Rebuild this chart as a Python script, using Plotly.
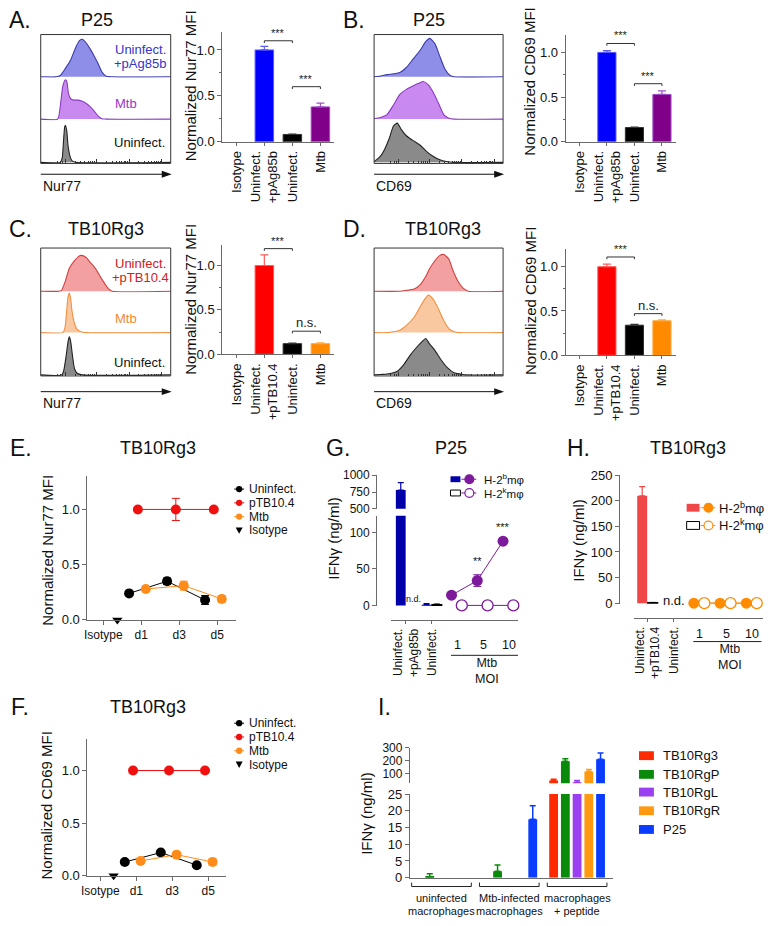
import numpy as np
import plotly.graph_objects as go

# ====================== DATA ======================
# Flow histograms (x = fraction of log axis, y = fraction of row height)
A_pAg85b_x = [0.00, 0.12, 0.15, 0.19, 0.23, 0.27, 0.30, 0.32, 0.35, 0.38, 0.41, 0.44, 0.47, 0.50, 0.55, 1.00]
A_pAg85b_y = [0.00, 0.00, 0.03, 0.20, 0.40, 0.70, 0.86, 0.89, 0.80, 0.66, 0.50, 0.32, 0.12, 0.02, 0.00, 0.00]
A_mtb_x = [0.00, 0.13, 0.15, 0.17, 0.19, 0.20, 0.215, 0.235, 0.26, 0.29, 0.32, 0.35, 0.38, 0.41, 0.44, 0.47, 0.50, 1.00]
A_mtb_y = [0.00, 0.00, 0.30, 0.80, 0.95, 0.92, 0.60, 0.48, 0.46, 0.46, 0.43, 0.38, 0.30, 0.20, 0.08, 0.01, 0.00, 0.00]
A_uninf_x = [0.00, 0.15, 0.165, 0.175, 0.185, 0.19, 0.20, 0.21, 0.225, 0.24, 0.27, 1.00]
A_uninf_y = [0.00, 0.00, 0.10, 0.50, 0.85, 0.88, 0.75, 0.40, 0.15, 0.04, 0.00, 0.00]

B_pAg85b_x = [0.00, 0.05, 0.10, 0.15, 0.20, 0.25, 0.30, 0.36, 0.40, 0.43, 0.47, 0.51, 0.55, 0.59, 0.62, 1.00]
B_pAg85b_y = [0.00, 0.02, 0.05, 0.07, 0.10, 0.22, 0.41, 0.64, 0.83, 0.91, 0.79, 0.48, 0.18, 0.03, 0.00, 0.00]
B_mtb_x = [0.00, 0.05, 0.10, 0.15, 0.20, 0.25, 0.30, 0.34, 0.38, 0.42, 0.46, 0.50, 0.54, 0.58, 0.62, 1.00]
B_mtb_y = [0.01, 0.04, 0.11, 0.34, 0.60, 0.72, 0.80, 0.86, 0.91, 0.83, 0.64, 0.38, 0.11, 0.02, 0.00, 0.00]
B_uninf_x = [0.00, 0.05, 0.08, 0.12, 0.15, 0.18, 0.21, 0.25, 0.30, 0.36, 0.41, 0.46, 0.51, 0.56, 0.62, 1.00]
B_uninf_y = [0.02, 0.15, 0.30, 0.59, 0.86, 0.93, 0.78, 0.63, 0.52, 0.40, 0.25, 0.14, 0.06, 0.02, 0.00, 0.00]

C_pTB_x = [0.00, 0.14, 0.16, 0.19, 0.22, 0.26, 0.29, 0.31, 0.35, 0.38, 0.42, 0.47, 0.52, 0.55, 1.00]
C_pTB_y = [0.00, 0.00, 0.02, 0.24, 0.53, 0.71, 0.80, 0.83, 0.78, 0.67, 0.53, 0.28, 0.06, 0.00, 0.00]
C_mtb_x = [0.00, 0.17, 0.185, 0.20, 0.21, 0.22, 0.23, 0.24, 0.26, 0.28, 0.31, 0.35, 1.00]
C_mtb_y = [0.00, 0.00, 0.10, 0.55, 0.88, 0.98, 0.85, 0.55, 0.22, 0.08, 0.02, 0.00, 0.00]
C_uninf_x = [0.00, 0.16, 0.175, 0.195, 0.21, 0.22, 0.23, 0.245, 0.26, 0.28, 0.32, 1.00]
C_uninf_y = [0.00, 0.00, 0.08, 0.45, 0.80, 0.92, 0.82, 0.45, 0.15, 0.04, 0.00, 0.00]

D_pTB_x = [0.00, 0.20, 0.25, 0.31, 0.36, 0.40, 0.43, 0.47, 0.51, 0.54, 0.58, 0.61, 0.65, 0.69, 0.73, 1.00]
D_pTB_y = [0.00, 0.00, 0.02, 0.05, 0.16, 0.34, 0.52, 0.70, 0.83, 0.85, 0.74, 0.49, 0.23, 0.07, 0.00, 0.00]
D_mtb_x = [0.00, 0.10, 0.15, 0.20, 0.25, 0.31, 0.36, 0.40, 0.42, 0.46, 0.50, 0.54, 0.58, 0.62, 0.66, 1.00]
D_mtb_y = [0.00, 0.00, 0.02, 0.06, 0.18, 0.38, 0.66, 0.86, 0.93, 0.82, 0.58, 0.30, 0.10, 0.02, 0.00, 0.00]
D_uninf_x = [0.00, 0.05, 0.10, 0.18, 0.23, 0.28, 0.33, 0.37, 0.40, 0.43, 0.47, 0.52, 0.57, 0.62, 0.67, 0.71, 1.00]
D_uninf_y = [0.00, 0.01, 0.02, 0.09, 0.25, 0.48, 0.67, 0.80, 0.88, 0.75, 0.60, 0.36, 0.17, 0.05, 0.02, 0.00, 0.00]

flow_decades = [0.19, 0.43, 0.68, 0.93]

# Normalized MFI bar charts
bar_cats_ag85b = ["Isotype", "Uninfect.<br>+pAg85b", "Uninfect.", "Mtb"]
bar_cats_tb10 = ["Isotype", "Uninfect.<br>+pTB10.4", "Uninfect.", "Mtb"]
A_vals = [None, 1.00, 0.08, 0.38]
A_errs = [None, 0.04, 0.005, 0.04]
B_vals = [None, 1.00, 0.16, 0.53]
B_errs = [None, 0.02, 0.005, 0.04]
C_vals = [None, 1.00, 0.12, 0.12]
C_errs = [None, 0.12, 0.005, 0.01]
D_vals = [None, 1.00, 0.34, 0.39]
D_errs = [None, 0.03, 0.01, 0.01]
sig_pairs = [(1, 2), (2, 3)]
A_sig, A_sig_y = ["***", "***"], [1.10, 0.60]
B_sig, B_sig_y = ["***", "***"], [1.10, 0.65]
C_sig, C_sig_y = ["***", "n.s."], [1.19, 0.26]
D_sig, D_sig_y = ["***", "n.s."], [1.11, 0.47]

# Time course (E, F)
time_cats = ["Isotype", "d1", "d3", "d5"]
time_legend = ["Uninfect.", "pTB10.4", "Mtb", "Isotype"]
E_uninf, E_uninf_err = [0.24, 0.35, 0.18], [0.01, 0.03, 0.04]
E_ptb, E_ptb_err = [1.00, 1.00, 1.00], [0.0, 0.10, 0.0]
E_mtb, E_mtb_err = [0.28, 0.31, 0.19], [0.01, 0.04, 0.03]
E_iso = [0.0]
F_uninf, F_uninf_err = [0.13, 0.22, 0.10], [0.01, 0.01, 0.01]
F_ptb, F_ptb_err = [1.00, 1.00, 1.00], [0.0, 0.0, 0.0]
F_mtb, F_mtb_err = [0.14, 0.20, 0.13], [0.01, 0.02, 0.03]
F_iso = [0.0]

# IFN-gamma (G, H)
G_bar_cats = ["Uninfect.<br>+pAg85b", "Uninfect."]
H_bar_cats = ["Uninfect.<br>+pTB10.4", "Uninfect."]
moi_labels = ["1", "5", "10"]
G_b_bar, G_b_bar_err = [780, 1.0], [110, 1.5]
G_k_bar, G_k_bar_err = [None, 1.0], [None, 1.0]
G_b_moi, G_b_moi_err = [14, 34, 88], [1.5, 8, 2]
G_k_moi = [0, 0, 0]
G_sig, G_sig_y = ["", "**", "***"], [None, 61, 108]
H_b_bar, H_b_bar_err = [210, None], [18, None]
H_k_bar, H_k_bar_err = [1.0, None], [0.5, None]
H_b_moi = [0, 0, 0]
H_k_moi = [0, 0, 0]

# IFN-gamma (I)
I_groups_l1 = ["uninfected", "Mtb-infected", "macrophages"]
I_groups_l2 = ["macrophages", "macrophages", "+ peptide"]
I_series = ["TB10Rg3", "TB10RgP", "TB10RgL", "TB10RgR", "P25"]
I_TB10Rg3, I_TB10Rg3_err = [None, None, 45], [None, None, 10]
I_TB10RgP, I_TB10RgP_err = [0.3, 1.9, 195], [0.9, 1.9, 20]
I_TB10RgL, I_TB10RgL_err = [None, None, 30], [None, None, 15]
I_TB10RgR, I_TB10RgR_err = [None, None, 115], [None, None, 15]
I_P25, I_P25_err = [None, 17.5, 210], [None, 4, 50]

# ====================== FIGURE ======================
W, H = 768, 926
FONT = "Liberation Sans, Arial, Helvetica, sans-serif"
AX = "#6a6a6a"


def px(x):
    return x / W


def py(y):
    return 1 - y / H


fig = go.Figure()
layout = dict(width=W, height=H, margin=dict(l=0, r=0, t=0, b=0), paper_bgcolor="white",
              plot_bgcolor="rgba(0,0,0,0)", showlegend=False, barmode="overlay",
              font=dict(family=FONT, size=13, color="#111"))
shapes, annotations = [], []
ncount = [0]


def new_axes(xdom, ydom, xopts=None, yopts=None):
    ncount[0] += 1
    n = ncount[0]
    s = "" if n == 1 else str(n)
    xa = dict(domain=[px(xdom[0]), px(xdom[1])], anchor="y" + s, showgrid=False, zeroline=False,
              showline=False, showticklabels=False, ticks="")
    ya = dict(domain=[py(ydom[1]), py(ydom[0])], anchor="x" + s, showgrid=False, zeroline=False,
              showline=False, showticklabels=False, ticks="")
    xa.update(xopts or {})
    ya.update(yopts or {})
    layout["xaxis" + s] = xa
    layout["yaxis" + s] = ya
    return "x" + s, "y" + s


def txt(x, y, s, size=13, color="#111", xanchor="center", yanchor="middle", angle=0):
    annotations.append(dict(x=px(x), y=py(y), xref="paper", yref="paper", text=s, showarrow=False,
                            font=dict(size=size, color=color, family=FONT), xanchor=xanchor,
                            yanchor=yanchor, textangle=angle))


def panel_title(lx, ly, letter, tx, title):
    txt(lx, ly, letter, size=23, xanchor="left")
    txt(tx, ly, title, size=18)


def in_range(vals, errs, lo, hi):
    """keep only bars whose top lies inside an axis segment (for broken axes)"""
    xs, ys, es = [], [], []
    for i, (v, e) in enumerate(zip(vals, errs)):
        if v is None or v <= lo:
            continue
        xs.append(i)
        ys.append(v)
        es.append(e if (e is not None and v + e <= hi * 1.5) else 0)
    return xs, ys, es


# ---------- flow histograms ----------
minor_flow = []
for d in flow_decades[:-1]:
    for k in range(2, 10):
        minor_flow.append(d + 0.25 * np.log10(k))
minor_flow += [0.13, 0.155, 0.17]


def hist_panel(x0, x1, rows, curves, marker, arrow_y):
    for i, (xs, ys, lc, fc) in enumerate(curves):
        xo = dict(range=[0, 1])
        if i == len(curves) - 1:
            xo.update(ticks="inside", tickvals=flow_decades, ticklen=4, tickcolor="#333",
                      minor=dict(tickvals=minor_flow, ticks="inside", ticklen=2, tickcolor="#333"))
        xa, ya = new_axes((x0, x1), (rows[i], rows[i + 1]), xo, dict(range=[-0.025, 1.0]))
        fig.add_trace(go.Scatter(x=xs, y=ys, xaxis=xa, yaxis=ya, mode="lines",
                                 line=dict(color=lc, width=1.1, shape="spline", smoothing=0.6),
                                 fill="tozeroy", fillcolor=fc, hoverinfo="skip"))
    shapes.append(dict(type="rect", xref="paper", yref="paper", x0=px(x0), x1=px(x1),
                       y0=py(rows[-1]), y1=py(rows[0]), line=dict(color="#333", width=1)))
    shapes.append(dict(type="line", xref="paper", yref="paper", x0=px(x0), x1=px(x1 - 5),
                       y0=py(arrow_y), y1=py(arrow_y), line=dict(color="#111", width=1)))
    shapes.append(dict(type="path", xref="paper", yref="paper",
                       path=f"M {px(x1 - 9)},{py(arrow_y - 3.5)} L {px(x1 + 1)},{py(arrow_y)} L {px(x1 - 9)},{py(arrow_y + 3.5)} Z",
                       fillcolor="#111", line=dict(width=0)))
    txt(x0, arrow_y + 12, marker, size=14, xanchor="left")


BLUE_L, BLUE_F = "#3a3aa8", "#8e8ee8"
PUR_L, PUR_F = "#8a3ac0", "#c98af0"
GRY_L, GRY_F = "#222222", "#8a8a8a"
RED_L, RED_F = "#d04040", "#f2a0a0"
ORA_L, ORA_F = "#f09040", "#f9c8a0"

rowsAB = [28, 72, 115, 159]
rowsCD = [245, 290, 332, 375]
hist_panel(35, 166, rowsAB, [(A_pAg85b_x, A_pAg85b_y, BLUE_L, BLUE_F), (A_mtb_x, A_mtb_y, PUR_L, PUR_F),
                             (A_uninf_x, A_uninf_y, GRY_L, GRY_F)], "Nur77", 170)
hist_panel(371, 501, rowsAB, [(B_pAg85b_x, B_pAg85b_y, BLUE_L, BLUE_F), (B_mtb_x, B_mtb_y, PUR_L, PUR_F),
                              (B_uninf_x, B_uninf_y, GRY_L, GRY_F)], "CD69", 170)
hist_panel(35, 166, rowsCD, [(C_pTB_x, C_pTB_y, RED_L, RED_F), (C_mtb_x, C_mtb_y, ORA_L, ORA_F),
                             (C_uninf_x, C_uninf_y, GRY_L, GRY_F)], "Nur77", 391)
hist_panel(371, 501, rowsCD, [(D_pTB_x, D_pTB_y, RED_L, RED_F), (D_mtb_x, D_mtb_y, ORA_L, ORA_F),
                              (D_uninf_x, D_uninf_y, GRY_L, GRY_F)], "CD69", 391)

txt(163, 43, "Uninfect.", size=13, color="#3535c8", xanchor="right")
txt(163, 57, "+pAg85b", size=13, color="#3535c8", xanchor="right")
txt(121, 98, "Mtb", size=13, color="#9a35cc")
txt(162, 138, "Uninfect.", size=13, xanchor="right")
txt(163, 261, "Uninfect.", size=13, color="#d02020", xanchor="right")
txt(166, 275, "+pTB10.4", size=13, color="#d02020", xanchor="right")
txt(121, 317, "Mtb", size=13, color="#f08a30")
txt(162, 361, "Uninfect.", size=13, xanchor="right")

panel_title(1, 13, "A.", 92, "P25")
panel_title(338, 13, "B.", 426, "P25")
panel_title(1, 226, "C.", 101, "TB10Rg3")
panel_title(338, 226, "D.", 440, "TB10Rg3")

# ---------- normalized bar charts ----------
AG_FILL = [None, "#0000ff", "#000000", "#80008a"]
AG_EDGE = [None, "#5a5aff", "#333333", "#a050c8"]
TB_FILL = [None, "#ff0000", "#000000", "#ff8a00"]
TB_EDGE = [None, "#ff5a5a", "#333333", "#ffaa40"]


def bar_panel(xdom, ydom, ytop, cats, vals, errs, fills, edges, sigs, sig_y, ytitle, tpos):
    xa, ya = new_axes(xdom, ydom,
                      dict(range=[-0.5, len(cats) - 0.5], showline=True, linecolor=AX, linewidth=1,
                           tickvals=list(range(len(cats))), ticktext=cats, tickangle=-90, ticks="outside",
                           ticklen=3, tickcolor=AX, showticklabels=True, tickfont=dict(size=13)),
                      dict(range=[0, ytop], showline=True, linecolor=AX, linewidth=1, tickvals=[0, 0.5, 1.0],
                           ticktext=["0.0", "0.5", "1.0"], ticks="outside", ticklen=4, tickcolor=AX,
                           showticklabels=True, tickfont=dict(size=13),
                           minor=dict(dtick=0.25, tick0=0, ticks="outside", ticklen=2, tickcolor=AX)))
    for i, (v, e) in enumerate(zip(vals, errs)):
        if v is None:
            continue
        fig.add_trace(go.Bar(x=[i], y=[v], width=0.66, xaxis=xa, yaxis=ya, hoverinfo="skip",
                             marker=dict(color=fills[i], line=dict(color=edges[i], width=1)),
                             error_y=dict(type="data", array=[e], arrayminus=[0], symmetric=False,
                                          color=edges[i], thickness=1.2, width=4)))
    for (i, j), s, h in zip(sig_pairs, sigs, sig_y):
        shapes.append(dict(type="path", xref=xa, yref=ya, path=f"M {i},{h - 0.025} L {i},{h} L {j},{h} L {j},{h - 0.025}",
                           line=dict(color="#333", width=1)))
        annotations.append(dict(x=(i + j) / 2, y=h, xref=xa, yref=ya, text=s, showarrow=False,
                                font=dict(size=11 if s.startswith("*") else 13, color="#222"),
                                yanchor="bottom", yshift=0 if s.startswith("*") else -1))
    txt(tpos[0], tpos[1], ytitle, size=15, angle=-90)


bar_panel((218, 331), (25, 137), 1.2, bar_cats_ag85b, A_vals, A_errs, AG_FILL, AG_EDGE, A_sig, A_sig_y,
          "Normalized Nur77 MFI", (186, 80))
bar_panel((564, 675), (28, 137), 1.2, bar_cats_ag85b, B_vals, B_errs, AG_FILL, AG_EDGE, B_sig, B_sig_y,
          "Normalized CD69 MFI", (528, 76))
bar_panel((218, 331), (242, 353), 1.23, bar_cats_tb10, C_vals, C_errs, TB_FILL, TB_EDGE, C_sig, C_sig_y,
          "Normalized Nur77 MFI", (186, 297))
bar_panel((564, 675), (246, 354), 1.2, bar_cats_tb10, D_vals, D_errs, TB_FILL, TB_EDGE, D_sig, D_sig_y,
          "Normalized CD69 MFI", (528, 299))

# ---------- time course panels ----------
T_COL = ["#000000", "#f01010", "#ff8c1a", "#000000"]
T_OFF = [-0.32, -0.09, 0.12, 0.37]


def time_panel(xdom, ydom, xlo, data, ytitle, tpos, leg_x, leg_rows):
    xa, ya = new_axes(xdom, ydom,
                      dict(range=[xlo, 3.5], showline=True, linecolor=AX, tickvals=[0, 1, 2, 3], ticktext=time_cats,
                           ticks="outside", ticklen=4, tickcolor=AX, showticklabels=True, tickfont=dict(size=12)),
                      dict(range=[0, 1.3], showline=True, linecolor=AX, tickvals=[0, 0.5, 1.0],
                           ticktext=["0.0", "0.5", "1.0"], ticks="outside", ticklen=4, tickcolor=AX,
                           showticklabels=True, tickfont=dict(size=13)))
    for k, (vals, errs) in enumerate(data[:3]):
        xs = [d + T_OFF[k] for d in [1, 2, 3]]
        fig.add_trace(go.Scatter(x=xs, y=vals, xaxis=xa, yaxis=ya, mode="lines+markers", cliponaxis=False,
                                 line=dict(color=T_COL[k], width=1), marker=dict(color=T_COL[k], size=10),
                                 error_y=dict(type="data", array=errs, color=T_COL[k], thickness=1, width=4),
                                 hoverinfo="skip"))
    fig.add_trace(go.Scatter(x=[0 + T_OFF[3]], y=data[3], xaxis=xa, yaxis=ya, mode="markers", cliponaxis=False,
                             marker=dict(color="#000", size=9, symbol="triangle-down"), hoverinfo="skip"))
    txt(tpos[0], tpos[1], ytitle, size=15, angle=-90)
    for k, (name, yy) in enumerate(zip(time_legend, leg_rows)):
        if k < 3:
            shapes.append(dict(type="line", xref="paper", yref="paper", x0=px(leg_x - 5), x1=px(leg_x + 5),
                               y0=py(yy), y1=py(yy), line=dict(color=T_COL[k], width=1)))
            shapes.append(dict(type="circle", xref="paper", yref="paper", x0=px(leg_x - 3.2), x1=px(leg_x + 3.2),
                               y0=py(yy + 3.2), y1=py(yy - 3.2), fillcolor=T_COL[k], line=dict(width=0)))
        else:
            shapes.append(dict(type="path", xref="paper", yref="paper",
                               path=f"M {px(leg_x - 3.5)},{py(yy - 3)} L {px(leg_x + 3.5)},{py(yy - 3)} L {px(leg_x)},{py(yy + 3.5)} Z",
                               fillcolor="#000", line=dict(width=0)))
        txt(leg_x + 8, yy, name, size=12, xanchor="left")


time_panel((82, 232), (477, 623), -0.42, [(E_uninf, E_uninf_err), (E_ptb, E_ptb_err), (E_mtb, E_mtb_err), E_iso],
           "Normalized Nur77 MFI", (41, 552), 235, [490, 504, 518, 532])
time_panel((82, 222), (744, 883), -0.36, [(F_uninf, F_uninf_err), (F_ptb, F_ptb_err), (F_mtb, F_mtb_err), F_iso],
           "Normalized CD69 MFI", (41, 812), 235, [728, 742, 756, 770])
panel_title(2, 448, "E.", 153, "TB10Rg3")
panel_title(3, 712, "F.", 143, "TB10Rg3")

# ---------- G & H: IFN-gamma ----------
BAR_OFF, BAR_W = 0.2, 0.38
MOI_OFF = [-0.23, 0.17]


def ifn_panel(xdom, yaxis_x, xaxis_y, xlo, xhi, segments, bar_cats, b_bar, b_err, k_bar, k_err,
              b_moi, b_moi_err, k_moi, bar_col, pt_col, tick_size):
    axes = []
    for si, (ydom, yr, tv) in enumerate(segments):
        xo = dict(range=[xlo, xhi])
        if si == 0:
            xo.update(anchor="free", position=py(xaxis_y), showline=True, linecolor=AX, tickvals=[0, 1],
                      ticktext=bar_cats, tickangle=-90, ticks="outside", ticklen=3, tickcolor=AX,
                      showticklabels=True, tickfont=dict(size=12))
        yo = dict(range=yr, anchor="free", position=px(yaxis_x), showline=True, linecolor=AX, tickvals=tv,
                  ticks="outside", ticklen=4, tickcolor=AX, showticklabels=True, tickfont=dict(size=tick_size))
        axes.append(new_axes(xdom, ydom, xo, yo))
    for (xa, ya), (_, yr, _) in zip(axes, segments):
        lo = yr[0] if yr[0] > 0 else -1e9
        bi, bv, be = in_range(b_bar, b_err, lo, yr[1])
        fig.add_trace(go.Bar(x=[i - BAR_OFF for i in bi], y=bv, width=BAR_W, xaxis=xa, yaxis=ya,
                             marker=dict(color=bar_col, line=dict(width=0)), hoverinfo="skip",
                             error_y=dict(type="data", array=be, arrayminus=[0] * len(bi), symmetric=False,
                                          color=bar_col, thickness=1.2, width=3)))
    xa, ya = axes[0]
    ki, kv, ke = in_range(k_bar, k_err, -1e9, 1e9)
    fig.add_trace(go.Bar(x=[i + BAR_OFF for i in ki], y=kv, width=BAR_W, xaxis=xa, yaxis=ya,
                         marker=dict(color="white", line=dict(color="#000", width=1.3)), hoverinfo="skip",
                         error_y=dict(type="data", array=ke, arrayminus=[0] * len(ki), symmetric=False,
                                      color="#000", thickness=1, width=3)))
    mx = [2 + m for m in range(len(moi_labels))]
    fig.add_trace(go.Scatter(x=[m + MOI_OFF[0] for m in mx], y=b_moi, xaxis=xa, yaxis=ya, mode="lines+markers",
                             cliponaxis=False, line=dict(color=pt_col, width=1),
                             marker=dict(color=pt_col, size=11),
                             error_y=dict(type="data", array=b_moi_err, color=pt_col, thickness=1, width=4),
                             hoverinfo="skip"))
    fig.add_trace(go.Scatter(x=[m + MOI_OFF[1] for m in mx], y=k_moi, xaxis=xa, yaxis=ya, mode="lines+markers",
                             cliponaxis=False, line=dict(color=pt_col, width=1),
                             marker=dict(color="white", size=11, line=dict(color=pt_col, width=1.3)),
                             hoverinfo="skip"))
    return axes, mx


G_PUR = "#7d1a9c"
(gl, gu), g_mx = ifn_panel((388, 516), 373, 623, -0.58, 4.35,
                           [((517, 609), [-1, 123], [0, 50, 100]), ((476, 510), [500, 1000], [500, 750, 1000])],
                           G_bar_cats, G_b_bar, G_b_bar_err, G_k_bar, G_k_bar_err, G_b_moi, G_b_moi_err, G_k_moi,
                           "#0000a8", G_PUR, 12)
H_RED, H_ORA = "#f04848", "#ff8c00"
(hl,), h_mx = ifn_panel((633, 763), 618, 621, -0.51, 4.41, [((476, 607), [-2, 250], [0, 50, 100, 150, 200, 250])],
                        H_bar_cats, H_b_bar, H_b_bar_err, H_k_bar, H_k_bar_err, H_b_moi, [0, 0, 0], H_k_moi,
                        H_RED, H_ORA, 13)

annotations.append(dict(x=0 + 0.3, y=0, xref=gl[0], yref=gl[1], text="n.d.", showarrow=False,
                        font=dict(size=9), yanchor="bottom", yshift=-1))
for m, s, h in zip(g_mx, G_sig, G_sig_y):
    if s:
        annotations.append(dict(x=m + MOI_OFF[0], y=h, xref=gl[0], yref=gl[1], text=s, showarrow=False,
                                font=dict(size=11), yanchor="middle"))
annotations.append(dict(x=1, y=0, xref=hl[0], yref=hl[1], text="n.d.", showarrow=False,
                        font=dict(size=13), yanchor="middle", yshift=3))


def moi_labels_draw(xa, mx, ylab, yline, ymtb, size):
    for m, lab in zip(mx, moi_labels):
        annotations.append(dict(x=m, y=py(ylab), xref=xa, yref="paper", text=lab, showarrow=False,
                                font=dict(size=size), yanchor="middle"))
    shapes.append(dict(type="line", xref=xa, yref="paper", x0=mx[0] - 0.25, x1=mx[-1] + 0.35,
                       y0=py(yline), y1=py(yline), line=dict(color="#222", width=1)))
    annotations.append(dict(x=(mx[0] + mx[-1]) / 2 + 0.15, y=py(ymtb), xref=xa, yref="paper",
                            text="Mtb<br>MOI", showarrow=False, font=dict(size=size), yanchor="middle"))


moi_labels_draw(gl[0], g_mx, 649, 659, 675, 12.5)
moi_labels_draw(hl[0], h_mx, 637, 645, 661, 12.5)

txt(330, 540, "IFNγ (ng/ml)", size=15, angle=-90)
txt(577, 542, "IFNγ (ng/ml)", size=15, angle=-90)
panel_title(320, 448, "G.", 448, "P25")
panel_title(563, 448, "H.", 687, "TB10Rg3")


def ifn_legend(x_rect, x_circ, x_text, rows, bar_col, pt_col, size, rect_h):
    for k, yy in enumerate(rows):
        filled = k == 0
        shapes.append(dict(type="rect", xref="paper", yref="paper", x0=px(x_rect[0]), x1=px(x_rect[1]),
                           y0=py(yy + rect_h / 2), y1=py(yy - rect_h / 2),
                           fillcolor=bar_col if filled else "white",
                           line=dict(color=bar_col if filled else "#000", width=0 if filled else 1)))
        shapes.append(dict(type="line", xref="paper", yref="paper", x0=px(x_circ - 8), x1=px(x_circ + 7),
                           y0=py(yy), y1=py(yy), line=dict(color=pt_col, width=1)))
        shapes.append(dict(type="circle", xref="paper", yref="paper", x0=px(x_circ - 4.5), x1=px(x_circ + 4.5),
                           y0=py(yy + 4.5), y1=py(yy - 4.5), fillcolor=pt_col if filled else "white",
                           line=dict(color=pt_col, width=1.2)))
        sup = "b" if filled else "k"
        txt(x_text, yy, f"H-2<sup>{sup}</sup>mφ", size=size, xanchor="left")


ifn_legend((448, 458), 467, 480, [480, 494], "#0000a8", G_PUR, 11.5, 6)
ifn_legend((686, 699), 708, 717, [509, 527], H_RED, H_ORA, 13, 8)

# ---------- I: IFN-gamma by peptide ----------
I_COLORS = ["#ff2a00", "#0a8a0a", "#9b40f0", "#ff9a10", "#0a3cff"]
I_VALS = [I_TB10Rg3, I_TB10RgP, I_TB10RgL, I_TB10RgR, I_P25]
I_ERRS = [I_TB10Rg3_err, I_TB10RgP_err, I_TB10RgL_err, I_TB10RgR_err, I_P25_err]
I_STEP, I_W = 0.173, 0.13
I_LOW, I_HIGH = [0, 25], [23, 300]

xi_l, yi_l = new_axes((407, 612), (800, 885), dict(range=[-0.467, 2.533], showline=True, linecolor=AX),
                      dict(range=I_LOW, showline=True, linecolor=AX, tickvals=[0, 5, 10, 15, 20, 25], ticks="outside",
                           ticklen=4, tickcolor=AX, showticklabels=True, tickfont=dict(size=13)))
xi_u, yi_u = new_axes((407, 612), (753, 789), dict(range=[-0.467, 2.533]),
                      dict(range=I_HIGH, showline=True, linecolor=AX, tickvals=[100, 200, 300], ticks="outside",
                           ticklen=4, tickcolor=AX, showticklabels=True, tickfont=dict(size=12)))
for (xa, ya), (lo, hi) in [((xi_l, yi_l), (-1e9, I_LOW[1])), ((xi_u, yi_u), (I_HIGH[0], I_HIGH[1]))]:
    for si, (vals, errs) in enumerate(zip(I_VALS, I_ERRS)):
        gi, gv, ge = in_range(vals, errs, lo, hi)
        if not gi:
            continue
        if hi == I_LOW[1]:
            ge = [e if v + e <= hi else 0 for v, e in zip(gv, ge)]
        fig.add_trace(go.Bar(x=[g + (si - 2) * I_STEP for g in gi], y=gv, width=I_W, xaxis=xa, yaxis=ya,
                             hoverinfo="skip", marker=dict(color=I_COLORS[si], line=dict(width=0)),
                             error_y=dict(type="data", array=ge, arrayminus=[0] * len(ge), symmetric=False,
                                          color=I_COLORS[si], thickness=1.5, width=3)))
for g, (l1, l2) in enumerate(zip(I_groups_l1, I_groups_l2)):
    shapes.append(dict(type="path", xref=xi_l, yref="paper",
                       path=f"M {g - 0.44},{py(890)} L {g - 0.44},{py(894)} L {g + 0.44},{py(894)} L {g + 0.44},{py(890)}",
                       line=dict(color="#222", width=1)))
    annotations.append(dict(x=g, y=py(906), xref=xi_l, yref="paper", text=l1, showarrow=False,
                            font=dict(size=11), yanchor="middle"))
    annotations.append(dict(x=g, y=py(918.5), xref=xi_l, yref="paper", text=l2, showarrow=False,
                            font=dict(size=11), yanchor="middle"))
txt(364, 820, "IFNγ (ng/ml)", size=15, angle=-90)
txt(373, 712, "I.", size=23, xanchor="left")
for si, (name, yy) in enumerate(zip(I_series, [761, 780, 798, 817, 836])):
    shapes.append(dict(type="rect", xref="paper", yref="paper", x0=px(638), x1=px(653), y0=py(yy + 4.5),
                       y1=py(yy - 4.5), fillcolor=I_COLORS[si], line=dict(width=0)))
    txt(660, yy, name, size=13, xanchor="left")

layout["shapes"] = shapes
layout["annotations"] = annotations
fig.update_layout(**layout)
fig.write_html("out.html", config={"displayModeBar": False},
               post_script="document.body.style.margin='0px';document.body.style.overflow='hidden';")
